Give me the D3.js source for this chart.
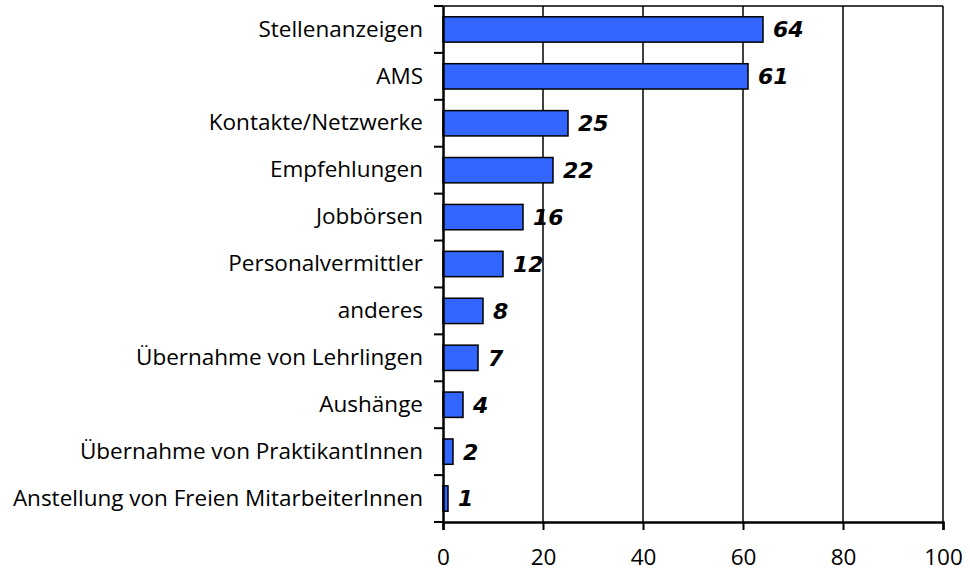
<!DOCTYPE html>
<html>
<head>
<meta charset="utf-8">
<script src="https://cdn.jsdelivr.net/npm/d3@7"></script>
<style>
  body { margin: 0; background: #fff; }
  svg { display: block; }
</style>
</head>
<body>
<div id="chart"></div>
<script>
const categories = [
  "Stellenanzeigen",
  "AMS",
  "Kontakte/Netzwerke",
  "Empfehlungen",
  "Jobbörsen",
  "Personalvermittler",
  "anderes",
  "Übernahme von Lehrlingen",
  "Aushänge",
  "Übernahme von PraktikantInnen",
  "Anstellung von Freien MitarbeiterInnen"
];
const values = [64, 61, 25, 22, 16, 12, 8, 7, 4, 2, 1];
const xTicks = [0, 20, 40, 60, 80, 100];

const width = 970, height = 573;
const margin = { top: 6, right: 27, bottom: 51, left: 443 };
const font = "'Open Sans', sans-serif";

const svg = d3.select("#chart")
  .append("svg")
  .attr("width", width)
  .attr("height", height);

const x = d3.scaleLinear()
  .domain([0, 100])
  .range([margin.left, width - margin.right]);

const y = d3.scaleBand()
  .domain(categories)
  .range([margin.top, height - margin.bottom])
  .paddingInner(0.46)
  .paddingOuter(0.23);

const yTicks = d3.scaleBand()
  .domain(categories)
  .range([margin.top, height - margin.bottom]);

// gridlines
svg.append("g")
  .selectAll("line")
  .data(xTicks.slice(1))
  .enter()
  .append("line")
  .attr("x1", d => x(d))
  .attr("x2", d => x(d))
  .attr("y1", margin.top)
  .attr("y2", height - margin.bottom)
  .attr("stroke", "#000")
  .attr("stroke-width", 1.5);

// top border
svg.append("line")
  .attr("x1", x(0)).attr("x2", x(100))
  .attr("y1", margin.top).attr("y2", margin.top)
  .attr("stroke", "#000").attr("stroke-width", 1.5);

// bars
svg.append("g")
  .selectAll("rect")
  .data(values)
  .enter()
  .append("rect")
  .attr("x", x(0))
  .attr("y", (d, i) => y(categories[i]))
  .attr("width", d => x(d) - x(0))
  .attr("height", y.bandwidth())
  .attr("fill", "#3366ff")
  .attr("stroke", "#000")
  .attr("stroke-width", 1.5);

// value labels
svg.append("g")
  .selectAll("text")
  .data(values)
  .enter()
  .append("text")
  .attr("x", d => x(d) + 10)
  .attr("y", (d, i) => y(categories[i]) + y.bandwidth() / 2)
  .attr("dy", "0.36em")
  .style("font-family", "'DejaVu Sans', sans-serif")
  .style("font-size", "22px")
  .style("font-weight", "bold")
  .style("font-style", "italic")
  .text(d => d);

// y axis
const yAxis = svg.append("g")
  .attr("transform", `translate(${x(0)},0)`)
  .call(d3.axisLeft(yTicks).tickSize(0).tickPadding(20));
yAxis.select(".domain").attr("stroke-width", 2.5);
yAxis.selectAll("text")
  .style("font-family", font)
  .style("font-size", "22.5px")
  .attr("fill", "#000");
// category separator ticks
svg.append("g")
  .selectAll("line")
  .data(d3.range(categories.length + 1))
  .enter()
  .append("line")
  .attr("x1", x(0) - 9)
  .attr("x2", x(0))
  .attr("y1", i => margin.top + i * yTicks.step())
  .attr("y2", i => margin.top + i * yTicks.step())
  .attr("stroke", "#000")
  .attr("stroke-width", 2);

// x axis
const xAxis = svg.append("g")
  .attr("transform", `translate(0,${height - margin.bottom})`)
  .call(d3.axisBottom(x).tickValues(xTicks).tickSize(8).tickPadding(19));
xAxis.select(".domain").attr("stroke-width", 2.5);
xAxis.selectAll(".tick line").attr("stroke-width", 2);
xAxis.selectAll("text")
  .style("font-family", font)
  .style("font-size", "22.5px")
  .attr("fill", "#000");
</script>
</body>
</html>
